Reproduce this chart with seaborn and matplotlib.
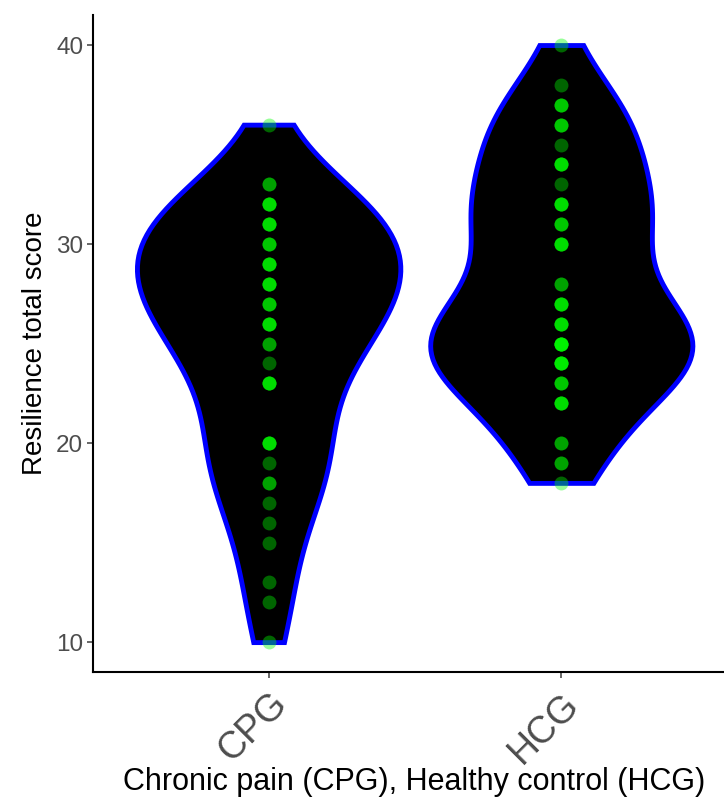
import matplotlib
matplotlib.use("Agg")
import matplotlib.pyplot as plt
import numpy as np
import pandas as pd
import seaborn as sns


# Data: score values and how many subjects had each
# ---------------------------------------------------------------------
groups = ["CPG", "HCG"]
cpg_values = [36, 33, 32, 31, 30, 29, 28, 27, 26, 25, 24, 23, 20, 19, 18, 17, 16, 15, 13, 12, 10]
cpg_counts = [1, 2, 4, 4, 3, 4, 4, 3, 4, 2, 1, 4, 4, 1, 2, 1, 1, 1, 1, 1, 1]
hcg_values = [40, 38, 37, 36, 35, 34, 33, 32, 31, 30, 28, 27, 26, 25, 24, 23, 22, 20, 19, 18]
hcg_counts = [1, 1, 3, 3, 1, 4, 1, 4, 3, 4, 2, 4, 4, 6, 5, 3, 4, 2, 2, 1]
y_ticks = [10, 20, 30, 40]


def build_frame():
    rows = []
    for g, vals, cnts in [("CPG", cpg_values, cpg_counts), ("HCG", hcg_values, hcg_counts)]:
        for v, c in zip(vals, cnts):
            rows += [(g, v)] * c
    return pd.DataFrame(rows, columns=["group", "score"])


def nrd0(kde):
    # same rule of thumb bandwidth as R's bw.nrd0, returned as a factor of sd
    x = kde.dataset[0]
    sd = x.std(ddof=1)
    iqr = np.subtract(*np.percentile(x, [75, 25]))
    h = 0.9 * min(sd, iqr / 1.34) * len(x) ** -0.2
    return h / sd


df = build_frame()

sns.set_style("ticks")
plt.rcParams["font.family"] = ["Liberation Sans", "DejaVu Sans"]

fig = plt.figure(figsize=(7.24, 7.99), dpi=100)
ax = fig.add_axes([0.1285, 0.159, 0.8715, 0.822])

sns.violinplot(data=df, x="group", y="score", order=groups, color="black",
               linecolor="#0000FF", linewidth=3.5, inner=None, cut=0,
               density_norm="area", width=0.9, bw_method=nrd0, saturation=1, ax=ax)
for coll in ax.collections:
    coll.set_facecolor("black")
    coll.set_joinstyle("miter")

sns.stripplot(data=df, x="group", y="score", order=groups, jitter=False,
              color="#00FF00", alpha=0.4, size=10, linewidth=0, ax=ax)

ax.set_xlim(-0.6, 1.556)
ax.set_ylim(8.5, 41.5)
ax.set_yticks(y_ticks)
ax.tick_params(axis="both", colors="#4D4D4D", width=1.2, length=4)
ax.tick_params(axis="y", labelsize=17.5, pad=3)
ax.tick_params(axis="x", labelsize=27, pad=6)
for lab in ax.get_xticklabels():
    lab.set_rotation(45)
    lab.set_ha("right")
    lab.set_va("top")
    lab.set_rotation_mode("anchor")
ax.set_xlabel("Chronic pain (CPG), Healthy control (HCG)", fontsize=22, color="black")
ax.xaxis.set_label_coords(0.509, -0.168)
ax.xaxis.label.set_va("center")
ax.set_ylabel("Resilience total score", fontsize=20, color="black", labelpad=6)
sns.despine(ax=ax)
for s in ["left", "bottom"]:
    ax.spines[s].set_color("black")
    ax.spines[s].set_linewidth(1.5)

fig.savefig("out.png", dpi=100)
